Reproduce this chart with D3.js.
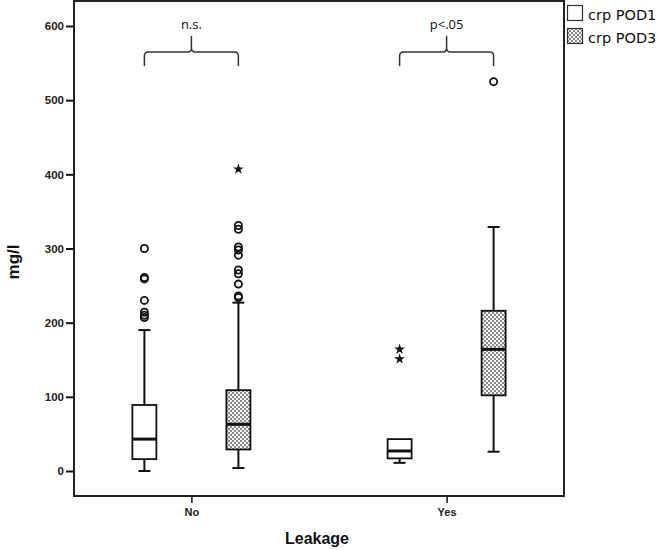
<!DOCTYPE html>
<html>
<head>
<meta charset="utf-8">
<script src="https://cdn.jsdelivr.net/npm/d3@7"></script>
<style>
  body { margin: 0; background: #fff; }
  svg { display: block; }
</style>
</head>
<body>
<div id="chart"></div>
<script>
// data
const groups = ["No", "Yes"];
const series = ["crp POD1", "crp POD3"];
// [lower whisker, Q1, median, Q3, upper whisker]
const noPod1 = [0, 16, 43, 89, 190];
const noPod3 = [4, 29, 63, 109, 227];
const yesPod1 = [11, 17, 27, 43, 43];
const yesPod3 = [26, 102, 164, 216, 329];
const noPod1Circles = [207, 210, 214, 230, 259, 261, 300];
const noPod3Circles = [234, 236, 252, 266, 271, 291, 298, 302, 326, 331];
const noPod3Stars = [407];
const yesPod1Stars = [151, 164];
const yesPod3Circles = [525];
const yTicks = [0, 100, 200, 300, 400, 500, 600];
const notes = [{ group: "No", text: "n.s." }, { group: "Yes", text: "p<.05" }];

const boxes = [
  { group: "No", s: 0, v: noPod1, circles: noPod1Circles, stars: [] },
  { group: "No", s: 1, v: noPod3, circles: noPod3Circles, stars: noPod3Stars },
  { group: "Yes", s: 0, v: yesPod1, circles: [], stars: yesPod1Stars },
  { group: "Yes", s: 1, v: yesPod3, circles: yesPod3Circles, stars: [] }
];

const W = 657, H = 550;
const mLeft = 74, mRight = 564, mTop = 1, mBottom = 496;

const svg = d3.select("#chart").append("svg")
  .attr("width", W).attr("height", H);

const defs = svg.append("defs");
const pat = defs.append("pattern")
  .attr("id", "chk").attr("patternUnits", "userSpaceOnUse")
  .attr("width", 4).attr("height", 4);
pat.append("rect").attr("width", 4).attr("height", 4).attr("fill", "#f2f2f2");
pat.append("rect").attr("width", 2).attr("height", 2).attr("fill", "#8a8a8a");
pat.append("rect").attr("x", 2).attr("y", 2).attr("width", 2).attr("height", 2).attr("fill", "#8a8a8a");

const x = d3.scalePoint().domain(groups).range([mLeft, mRight]).padding(0.46);
const y = d3.scaleLinear().domain([0, 600]).range([471, 26]);
const off = d3.scalePoint().domain([0, 1]).range([-47, 47]);
const bw = 24;

// frame
svg.append("rect")
  .attr("x", mLeft).attr("y", mTop)
  .attr("width", mRight - mLeft).attr("height", mBottom - mTop)
  .attr("fill", "none").attr("stroke", "#222").attr("stroke-width", 2);

// y axis
const yAxis = svg.append("g")
  .attr("transform", `translate(${mLeft - 1},0)`)
  .call(d3.axisLeft(y).tickValues(yTicks).tickSize(7).tickPadding(2));
yAxis.select(".domain").remove();
yAxis.selectAll(".tick line").attr("stroke", "#111").attr("stroke-width", 2);
yAxis.selectAll("text")
  .attr("font-family", "Liberation Sans, Arial, sans-serif")
  .attr("font-size", 11.5).attr("font-weight", "bold").attr("fill", "#222");

// x axis
const xAxis = svg.append("g")
  .attr("transform", `translate(0,${mBottom + 1})`)
  .call(d3.axisBottom(x).tickSize(6).tickPadding(5));
xAxis.select(".domain").remove();
xAxis.selectAll(".tick line").attr("stroke", "#111").attr("stroke-width", 1.5);
xAxis.selectAll("text")
  .attr("font-family", "Liberation Sans, Arial, sans-serif")
  .attr("font-size", 11).attr("font-weight", "bold").attr("fill", "#222");

svg.append("text")
  .attr("x", 317).attr("y", 544)
  .attr("text-anchor", "middle")
  .attr("font-family", "Liberation Sans, Arial, sans-serif")
  .attr("font-size", 16).attr("font-weight", "bold").attr("fill", "#111")
  .text("Leakage");

svg.append("text")
  .attr("transform", "translate(19,262) rotate(-90)")
  .attr("text-anchor", "middle")
  .attr("font-family", "Liberation Sans, Arial, sans-serif")
  .attr("font-size", 17).attr("font-weight", "bold").attr("fill", "#111")
  .text("mg/l");

// boxes
const g = svg.append("g");
boxes.forEach(b => {
  const cx = x(b.group) + off(b.s);
  const [lo, q1, md, q3, hi] = b.v;
  const bg = g.append("g").attr("stroke", "#111");
  bg.append("line").attr("x1", cx).attr("x2", cx).attr("y1", y(lo)).attr("y2", y(q1)).attr("stroke-width", 2);
  bg.append("line").attr("x1", cx).attr("x2", cx).attr("y1", y(q3)).attr("y2", y(hi)).attr("stroke-width", 2);
  bg.append("line").attr("x1", cx - 6).attr("x2", cx + 6).attr("y1", y(lo)).attr("y2", y(lo)).attr("stroke-width", 2);
  if (hi > q3) {
    bg.append("line").attr("x1", cx - 6).attr("x2", cx + 6).attr("y1", y(hi)).attr("y2", y(hi)).attr("stroke-width", 2);
  }
  bg.append("rect")
    .attr("x", cx - bw / 2).attr("y", y(q3))
    .attr("width", bw).attr("height", y(q1) - y(q3))
    .attr("fill", b.s ? "url(#chk)" : "#fff").attr("stroke-width", 1.8);
  bg.append("line").attr("x1", cx - bw / 2).attr("x2", cx + bw / 2).attr("y1", y(md)).attr("y2", y(md)).attr("stroke-width", 3);

  bg.selectAll("circle.o").data(b.circles).join("circle")
    .attr("cx", cx).attr("cy", d => y(d)).attr("r", 3.6)
    .attr("fill", "none").attr("stroke-width", 1.8);
  bg.selectAll("path.s").data(b.stars).join("path")
    .attr("d", d3.symbol(d3.symbolStar, 36))
    .attr("transform", d => `translate(${cx},${y(d)})`)
    .attr("fill", "#111").attr("stroke", "none");
});

// brackets with notes
notes.forEach(n => {
  const cx = x(n.group);
  const x0 = cx + off(0), x1 = cx + off(1);
  const yb = 52, yd = 66, yp = 36;
  const p = d3.path();
  p.moveTo(x0, yd);
  p.lineTo(x0, yb + 4);
  p.quadraticCurveTo(x0, yb, x0 + 4, yb);
  p.lineTo(cx - 4, yb);
  p.quadraticCurveTo(cx, yb, cx, yb - 4);
  p.lineTo(cx, yp);
  p.moveTo(cx, yb - 4);
  p.quadraticCurveTo(cx, yb, cx + 4, yb);
  p.lineTo(x1 - 4, yb);
  p.quadraticCurveTo(x1, yb, x1, yb + 4);
  p.lineTo(x1, yd);
  svg.append("path").attr("d", p.toString())
    .attr("fill", "none").attr("stroke", "#333").attr("stroke-width", 1.5);
  svg.append("text")
    .attr("x", cx).attr("y", 29)
    .attr("text-anchor", "middle")
    .attr("font-family", "Open Sans, DejaVu Sans, sans-serif")
    .attr("font-size", 13).attr("fill", "#111")
    .text(n.text);
});

// legend
const leg = svg.append("g").attr("transform", "translate(567,5)");
series.forEach((s, i) => {
  const row = leg.append("g").attr("transform", `translate(0,${i * 23})`);
  row.append("rect").attr("x", 0.5).attr("y", 0.5).attr("width", 15).attr("height", 15)
    .attr("fill", i ? "url(#chk)" : "#fff").attr("stroke", "#333").attr("stroke-width", 1.2);
  row.append("text").attr("x", 21).attr("y", 14.5)
    .attr("font-family", "DejaVu Sans, Verdana, sans-serif")
    .attr("font-size", 14.5).attr("fill", "#111")
    .text(s);
});
</script>
</body>
</html>
